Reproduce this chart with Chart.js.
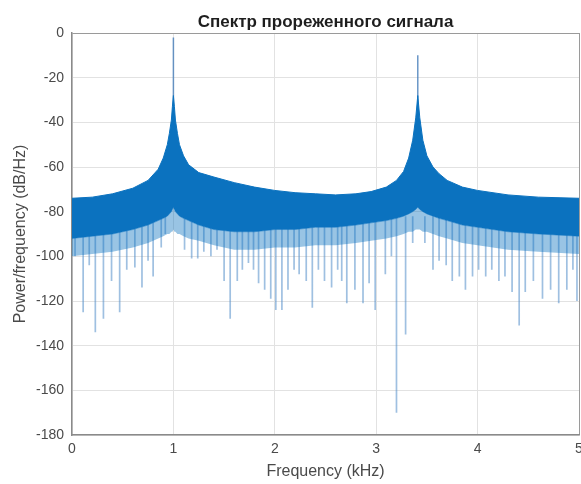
<!DOCTYPE html>
<html>
<head>
<meta charset="utf-8">
<script src="https://cdn.jsdelivr.net/npm/chart.js@4.4.1/dist/chart.umd.min.js"></script>
<style>
  html, body { margin: 0; padding: 0; background: #ffffff; }
  #wrap { width: 581px; height: 484px; position: relative; }
</style>
</head>
<body>
<div id="wrap"><canvas id="c" width="581" height="484"></canvas></div>
<script>
// ---- data ----
const titleText = 'Спектр прореженного сигнала';
const xLabel = 'Frequency (kHz)';
const yLabel = 'Power/frequency (dB/Hz)';

// frequency points (kHz) where the band edges were read
const envFreq = [0, 0.2, 0.4, 0.6, 0.75, 0.85, 0.9, 0.94, 0.96, 0.98, 0.99, 1.0, 1.01, 1.02, 1.04, 1.06, 1.1, 1.15, 1.25, 1.4, 1.6, 1.8, 2.0, 2.2, 2.4, 2.6, 2.8, 2.95, 3.1, 3.2, 3.27, 3.32, 3.36, 3.39, 3.41, 3.43, 3.46, 3.5, 3.56, 3.62, 3.7, 3.85, 4.0, 4.3, 4.6, 5.0];
// upper edge of the dense band (dB/Hz)
const envTop = [-74, -73.5, -72, -69.5, -66, -61, -56, -50, -45, -39, -33, -28, -33, -39, -45, -50, -55, -59, -62.5, -64.5, -67, -69, -70.5, -71.5, -72, -72.5, -72, -71, -69, -66, -62, -56, -48, -38, -28, -38, -48, -55, -60, -63, -66, -69, -70.5, -72.5, -73.5, -74];
// lower edge of the solid part of the band
const envSolidLow = [-92, -91, -90, -88, -86, -84, -83, -82, -81, -80, -79, -78, -79, -80, -81, -82, -83, -84, -86, -88, -89, -89, -88, -88, -87, -87, -86, -85, -84, -83, -82, -81, -80, -79, -78, -79, -80, -81, -82, -83, -84, -86, -87, -89, -90, -91];
// lower edge of the lighter fringe below the solid band
const envFringeLow = [-100, -99, -98, -96, -94, -92, -91, -90, -90, -89, -89, -88, -89, -89, -90, -90, -91, -92, -93, -95, -97, -97, -96, -96, -95, -95, -94, -93, -92, -91, -90, -89, -89, -88, -88, -88, -89, -89, -90, -91, -92, -94, -95, -97, -98, -99];

// deep notches (kHz, dB/Hz)
const dipFreq = [0.03, 0.11, 0.17, 0.23, 0.31, 0.39, 0.47, 0.54, 0.62, 0.69, 0.75, 0.80, 0.88, 0.92, 1.11, 1.18, 1.24, 1.30, 1.37, 1.43, 1.50, 1.56, 1.63, 1.68, 1.74, 1.79, 1.84, 1.90, 1.96, 2.01, 2.07, 2.13, 2.19, 2.24, 2.31, 2.37, 2.43, 2.49, 2.56, 2.62, 2.66, 2.71, 2.79, 2.87, 2.93, 2.99, 3.09, 3.15, 3.20, 3.29, 3.36, 3.48, 3.56, 3.62, 3.69, 3.75, 3.82, 3.88, 3.95, 4.01, 4.08, 4.14, 4.21, 4.27, 4.34, 4.41, 4.47, 4.55, 4.64, 4.72, 4.80, 4.88, 4.94, 4.98];
const dipValue = [-100, -125, -104, -134, -128, -111, -125, -106, -105, -114, -102, -109, -96, -90, -97, -101, -101, -98, -100, -97, -111, -128, -111, -106, -103, -106, -112, -115, -119, -124, -124, -115, -106, -108, -111, -123, -106, -111, -114, -106, -111, -121, -115, -121, -112, -124, -108, -100, -170, -135, -94, -94, -106, -102, -104, -111, -109, -115, -109, -106, -109, -106, -111, -109, -116, -131, -116, -111, -119, -115, -121, -115, -106, -120];

// spectral peaks (kHz, dB/Hz)
const peakFreq = [1.0, 3.41];
const peakValue = [-2, -10];

// axis ticks
const xMin = 0, xMax = 5, xStep = 1;
const yMin = -180, yMax = 0, yStep = 20;

// ---- build datasets ----
const toPts = (xs, ys) => xs.map((x, i) => ({ x: x, y: ys[i] }));
const segs = (xs, ys, from) => {
  const out = [];
  xs.forEach((x, i) => {
    out.push({ x: x, y: from }, { x: x, y: ys[i] }, { x: x, y: null });
  });
  return out;
};

const BLUE = '#0b72bf';
const FONT = "'Liberation Sans', Arial, Helvetica, sans-serif";

const data = {
  datasets: [
    { label: 'top', data: toPts(envFreq, envTop), borderColor: BLUE, borderWidth: 1,
      backgroundColor: BLUE, fill: '+1', pointRadius: 0, tension: 0 },
    { label: 'solidLow', data: toPts(envFreq, envSolidLow), borderColor: 'rgba(11,114,191,0.5)', borderWidth: 1,
      backgroundColor: 'rgba(11,114,191,0.42)', fill: '+1', pointRadius: 0, tension: 0 },
    { label: 'fringeLow', data: toPts(envFreq, envFringeLow), borderColor: 'rgba(0,0,0,0)', borderWidth: 0,
      fill: false, pointRadius: 0, tension: 0 },
    { label: 'dips', data: segs(dipFreq, dipValue, -82), borderColor: 'rgba(80,140,200,0.55)', borderWidth: 1.7,
      fill: false, pointRadius: 0, spanGaps: false, tension: 0 },
    { label: 'peaks', data: segs(peakFreq, peakValue, -40), borderColor: 'rgba(70,125,185,0.8)', borderWidth: 1.5,
      fill: false, pointRadius: 0, spanGaps: false, tension: 0 }
  ]
};

// title centred over the plot area, like the reference
const plotTitle = {
  id: 'plotTitle',
  afterDraw(chart) {
    const { ctx, chartArea } = chart;
    ctx.save();
    ctx.fillStyle = '#1e1e1e';
    ctx.font = "bold 17px " + FONT;
    ctx.textAlign = 'center';
    ctx.textBaseline = 'middle';
    ctx.fillText(titleText, (chartArea.left + chartArea.right) / 2, 22);
    ctx.restore();
  }
};

new Chart(document.getElementById('c'), {
  type: 'line',
  data: data,
  plugins: [plotTitle],
  options: {
    responsive: false,
    animation: false,
    events: [],
    layout: { padding: { left: 0, right: 2, top: 33, bottom: 0 }, autoPadding: false },
    plugins: {
      legend: { display: false },
      tooltip: { enabled: false },
      title: { display: false }
    },
    scales: {
      x: {
        type: 'linear', min: xMin, max: xMax,
        afterFit: (s) => { s.height = 49; s.paddingLeft = 0; s.paddingRight = 0; },
        ticks: { stepSize: xStep, color: '#4a4a4a', padding: 6, font: { family: FONT, size: 14 }, maxRotation: 0 },
        grid: { color: (c) => (c.tick && (c.tick.value === xMax)) ? '#9a9a9a' : '#e2e2e2', drawTicks: false, tickLength: 0, lineWidth: 1 },
        border: { color: '#8a8a8a', width: 1.5 },
        title: { display: true, text: xLabel, color: '#4a4a4a', font: { family: FONT, size: 16 }, padding: { top: 0, bottom: 3 } }
      },
      y: {
        type: 'linear', min: yMin, max: yMax,
        afterFit: (s) => { s.width = 72; s.paddingTop = 0; s.paddingBottom = 0; },
        ticks: { stepSize: yStep, color: '#4a4a4a', padding: 8, font: { family: FONT, size: 14 } },
        grid: { color: (c) => (c.tick && (c.tick.value === yMax)) ? '#9a9a9a' : '#e2e2e2', drawTicks: false, tickLength: 0, lineWidth: 1 },
        border: { color: '#8a8a8a', width: 1.5 },
        title: { display: true, text: yLabel, color: '#4a4a4a', font: { family: FONT, size: 16 }, padding: { top: 11, bottom: 0 } }
      }
    }
  }
});
</script>
</body>
</html>
